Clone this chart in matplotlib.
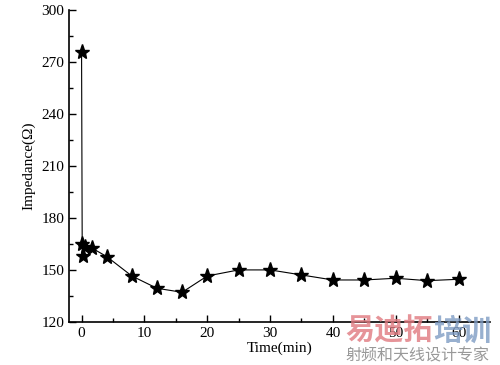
import numpy as np
import matplotlib.pyplot as plt

plt.rcParams['font.family'] = ['Liberation Serif', 'DejaVu Serif']

# time (min) and impedance (ohm)
time = [0, 0.1, 0.25, 0.6, 1.7, 4, 8, 12, 16, 20, 25, 30, 35, 40, 45, 50, 55, 60]
impedance = [275.5, 165, 158, 163.5, 162.5, 157.7, 146.5, 139.4, 137.1, 146.5,
             150, 150, 147.1, 144.2, 144.2, 145.2, 143.8, 144.6]

fig = plt.figure(figsize=(5, 3.65), dpi=100)
ax = fig.add_axes([0.138, 0.118, 0.842, 0.855])

ax.plot(time, impedance, color='black', lw=0.8, marker='*', markersize=11,
        markerfacecolor='black', markeredgecolor='black')

ax.set_xlim(-2, 65)
ax.set_ylim(120, 300)
ax.set_xticks(np.arange(0, 61, 10))
ax.set_xticks(np.arange(0, 61, 5), minor=True)
ax.set_yticks(np.arange(120, 301, 30))
ax.set_yticks(np.arange(135, 300, 30), minor=True)
ax.tick_params(direction='in', which='major', length=5, width=1, labelsize=11)
ax.tick_params(direction='in', which='minor', length=3, width=1)
for s in ['top', 'right']:
    ax.spines[s].set_visible(False)
for s in ['left', 'bottom']:
    ax.spines[s].set_linewidth(1.2)

ax.set_xlabel('Time(min)', fontsize=11, labelpad=1)
ax.set_ylabel('Impedance(\u03a9)', fontsize=11, labelpad=4)

# watermark
fig.text(0.69, 0.07, '易迪拓', color='#e07a80', fontsize=21, fontweight='bold',
         family=['Noto Sans CJK SC'], alpha=0.8)
fig.text(0.867, 0.07, '培训', color='#7f9cc4', fontsize=21, fontweight='bold',
         family=['Noto Sans CJK SC'], alpha=0.8)
fig.text(0.69, 0.012, '射频和天线设计专家', color='#999999', fontsize=11.5,
         family=['Noto Sans CJK SC'])

fig.savefig('out.png', dpi=100)
